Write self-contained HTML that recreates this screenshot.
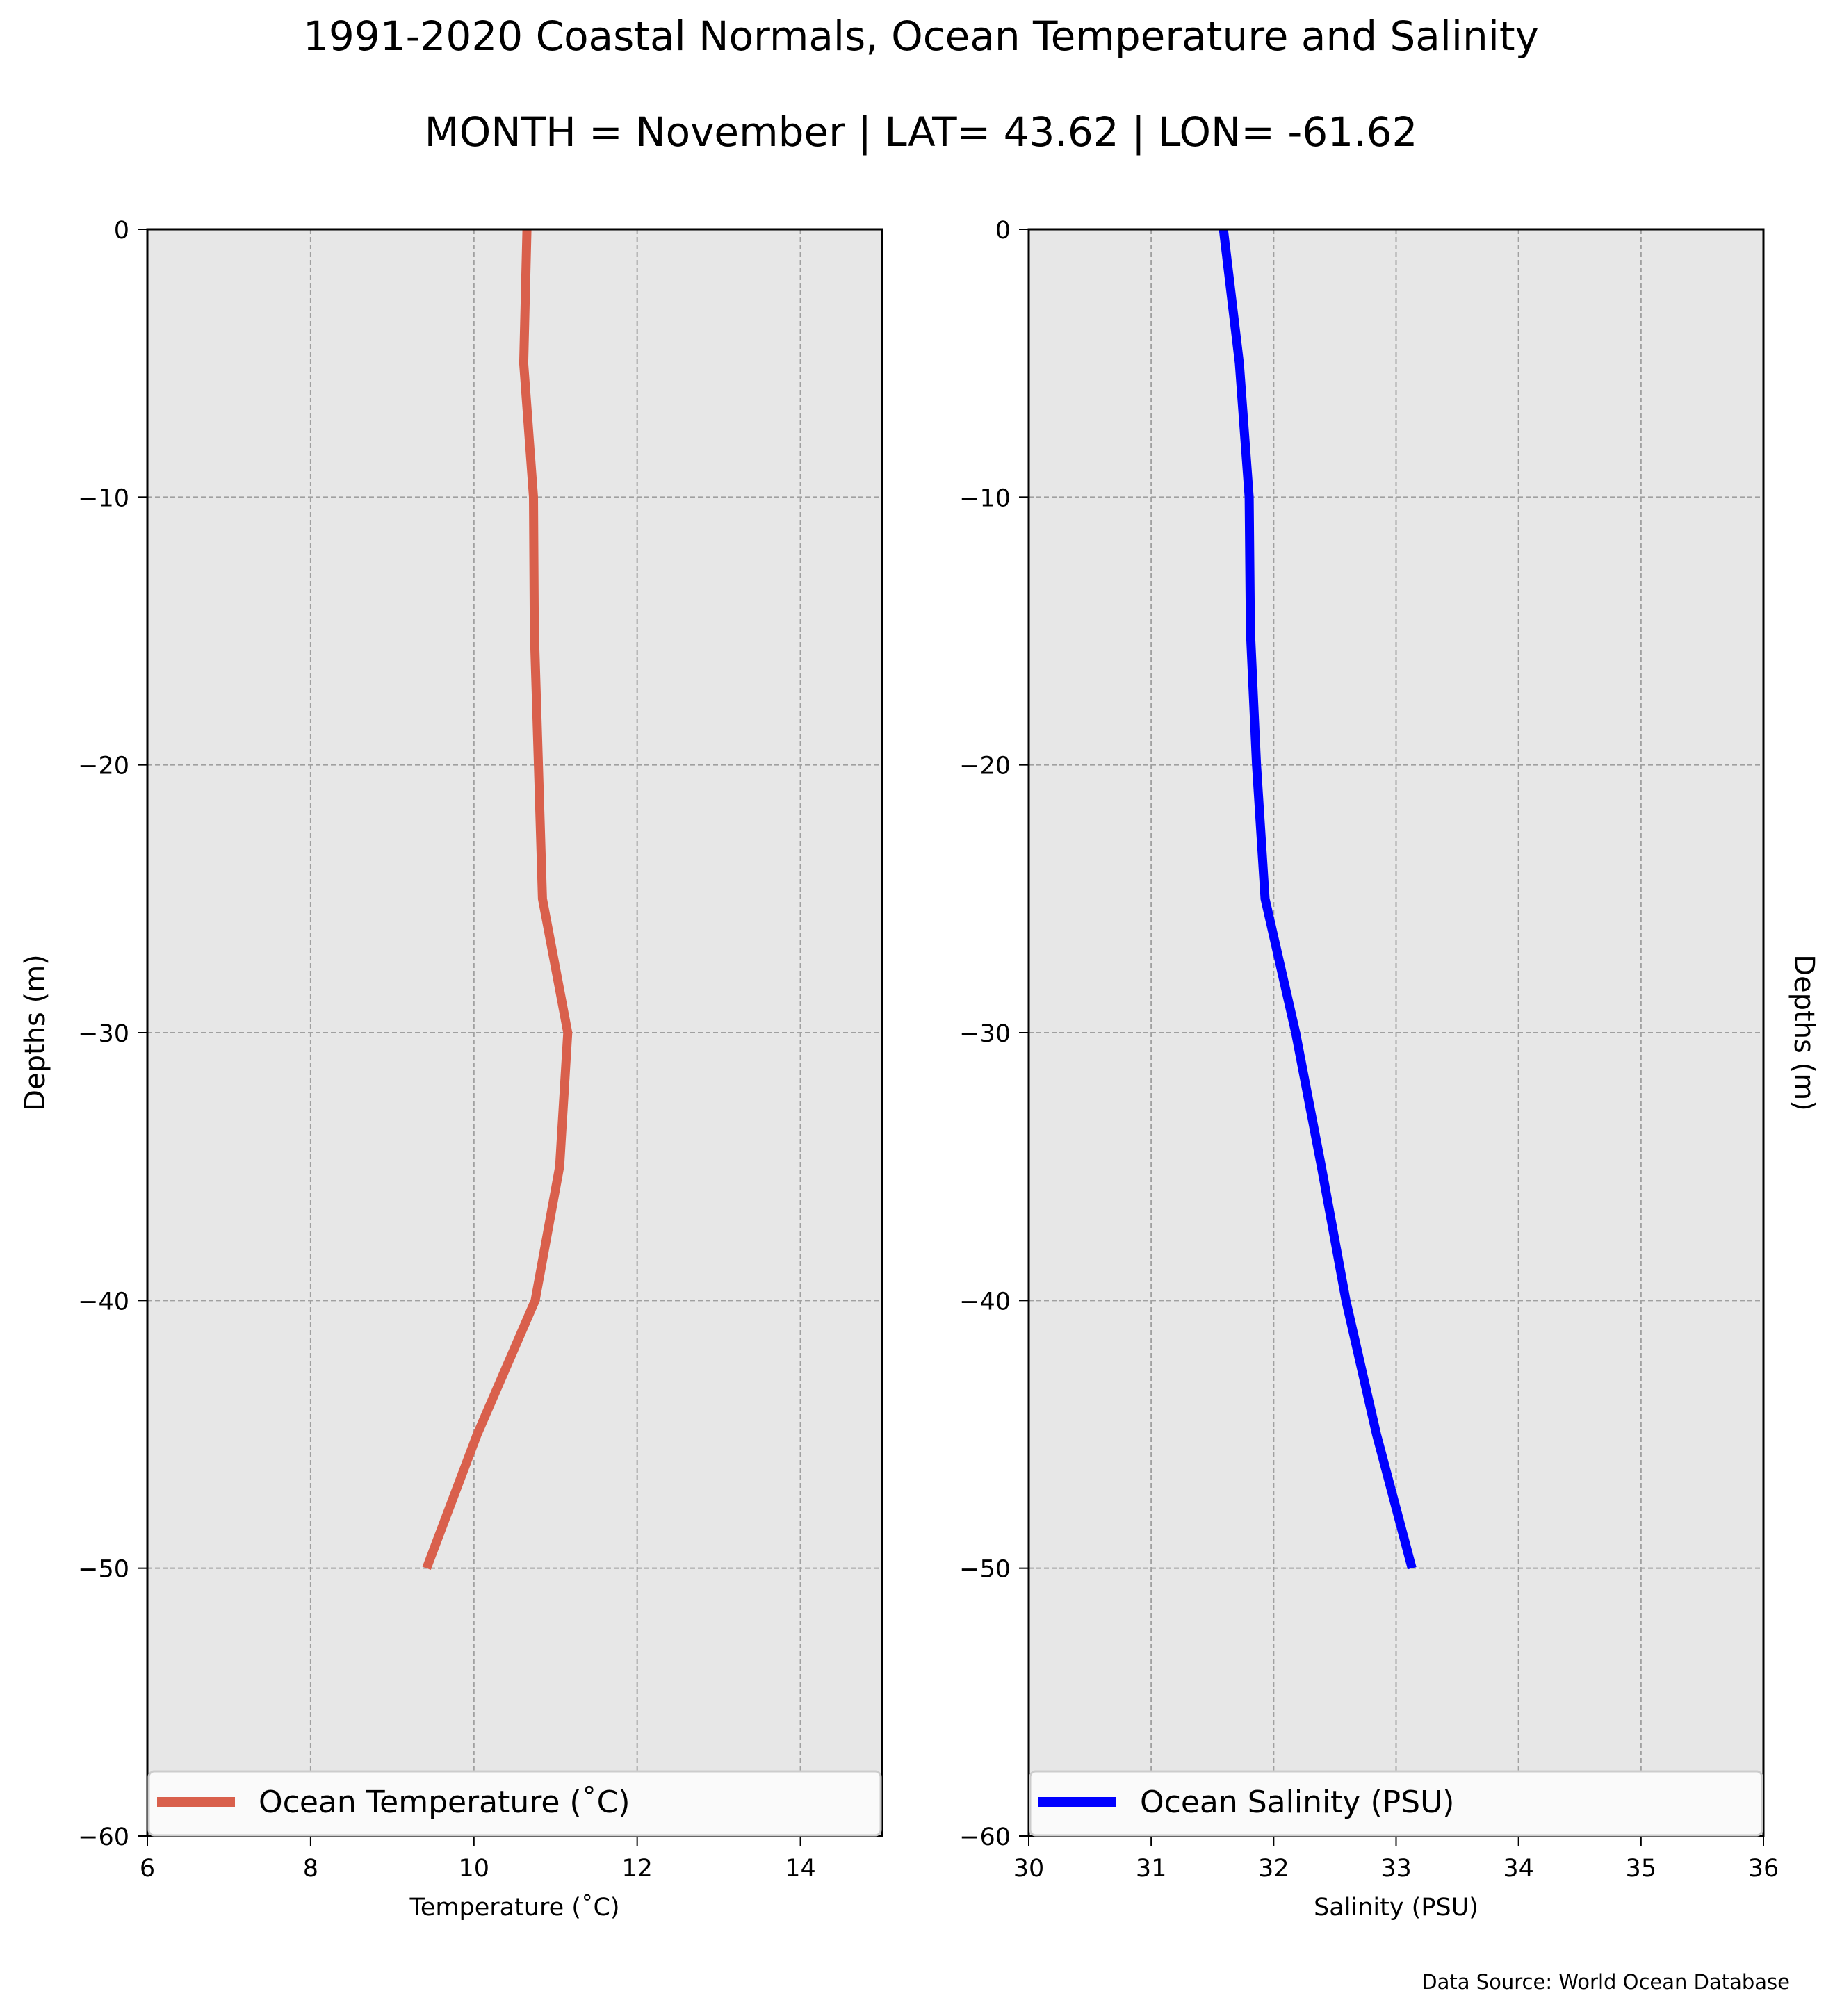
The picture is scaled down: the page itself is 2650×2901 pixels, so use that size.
<!DOCTYPE html>
<html><head><meta charset="utf-8">
<style>
html,body{margin:0;padding:0;background:#fff;}
svg{display:block;font-family:"DejaVu Sans","Liberation Sans",sans-serif;}
</style></head>
<body>
<svg id="fig" width="2650" height="2901" viewBox="0 0 2650 2901" xmlns="http://www.w3.org/2000/svg">
<text x="1325" y="72" text-anchor="middle" font-size="58">1991-2020 Coastal Normals, Ocean Temperature and Salinity</text>
<text x="1325" y="210" text-anchor="middle" font-size="58">MONTH = November | LAT= 43.62 | LON= -61.62</text>
<text x="2575" y="2862" text-anchor="end" font-size="29">Data Source: World Ocean Database</text>
<text transform="translate(64,1486) rotate(-90)" text-anchor="middle" font-size="40">Depths (m)</text>
<text transform="translate(2582,1486) rotate(90)" text-anchor="middle" font-size="40">Depths (m)</text>
<g id="left"></g>
<g id="right"></g>
</svg>
<script>
const depths = [0, -5, -10, -15, -20, -25, -30, -35, -40, -45, -50];
const temperature = [10.65, 10.61, 10.73, 10.74, 10.79, 10.84, 11.15, 11.05, 10.75, 10.04, 9.42];
const salinity = [31.59, 31.72, 31.80, 31.81, 31.86, 31.93, 32.18, 32.39, 32.59, 32.84, 33.13];
const yTicks = [0, -10, -20, -30, -40, -50, -60];
const tempTicks = [6, 8, 10, 12, 14];
const salTicks = [30, 31, 32, 33, 34, 35, 36];

const NS = "http://www.w3.org/2000/svg";
function mk(parent, tag, attrs) {
  const e = document.createElementNS(NS, tag);
  for (const k in attrs) e.setAttribute(k, attrs[k]);
  parent.appendChild(e);
  return e;
}
const TOP = 330, BOT = 2642;
function yScale(d) { return TOP + (0 - d) / 60 * (BOT - TOP); }

function panel(g, left, right, xmin, xmax, xTicks, values, color, legendText, xTitle, prefix) {
  const xs = v => left + (v - xmin) / (xmax - xmin) * (right - left);
  const bg = mk(g, 'rect', {x: left, y: TOP, width: right - left, height: BOT - TOP, fill: '#e7e7e7'});
  
  
  xTicks.forEach(t => {
    const x = xs(t);
    if (t !== xmin && t !== xmax) {
      const gl = mk(g, 'line', {x1: x, x2: x, y1: TOP, y2: BOT, stroke: '#a0a0a0', 'stroke-width': 2, 'stroke-dasharray': '7,4'});
      
      
    }
    const tk = mk(g, 'line', {x1: x, x2: x, y1: BOT, y2: BOT + 14, stroke: '#000', 'stroke-width': 2});
    
    
    const lb = mk(g, 'text', {x: x, y: BOT + 58, 'text-anchor': 'middle', 'font-size': 35});
    lb.textContent = t;
    
    
  });
  yTicks.forEach(t => {
    const y = yScale(t);
    if (t !== 0 && t !== -60) {
      const gl = mk(g, 'line', {x1: left, x2: right, y1: y, y2: y, stroke: '#a0a0a0', 'stroke-width': 2, 'stroke-dasharray': '7,4'});
      
      
    }
    const tk = mk(g, 'line', {x1: left - 14, x2: left, y1: y, y2: y, stroke: '#000', 'stroke-width': 2});
    
    
    const lb = mk(g, 'text', {x: left - 26, y: y + 13, 'text-anchor': 'end', 'font-size': 35});
    lb.textContent = t < 0 ? '\u2212' + Math.abs(t) : String(t);
    
    
  });
  const pts = values.map((v, i) => xs(v).toFixed(1) + ',' + yScale(depths[i]).toFixed(1)).join(' ');
  const line = mk(g, 'polyline', {points: pts, fill: 'none', stroke: color, 'stroke-width': 13});
  
  
  const fr = mk(g, 'rect', {x: left, y: TOP, width: right - left, height: BOT - TOP, fill: 'none', stroke: '#000', 'stroke-width': 3});
  
  
  // legend
  const lg = mk(g, 'g', {});
  
  
  mk(lg, 'rect', {x: left + 2, y: 2549, width: right - left - 4, height: 92, rx: 8, fill: '#fafafa', stroke: '#cccccc', 'stroke-width': 3});
  const sw = mk(lg, 'line', {x1: left + 14, x2: left + 126, y1: 2593, y2: 2593, stroke: color, 'stroke-width': 14});
  
  
  const lt = mk(lg, 'text', {x: left + 160, y: 2608, 'font-size': 44});
  lt.textContent = legendText;
  
  
  const xt = mk(g, 'text', {x: (left + right) / 2, y: 2756, 'text-anchor': 'middle', 'font-size': 35});
  xt.textContent = xTitle;
  
  
}
panel(document.getElementById('left'), 212, 1269, 6, 15, tempTicks, temperature, '#d9604c', 'Ocean Temperature (\u02DAC)', 'Temperature (\u02DAC)', 'temperature');
panel(document.getElementById('right'), 1480, 2537, 30, 36, salTicks, salinity, '#0000ff', 'Ocean Salinity (PSU)', 'Salinity (PSU)', 'salinity');
</script>
</body></html>
